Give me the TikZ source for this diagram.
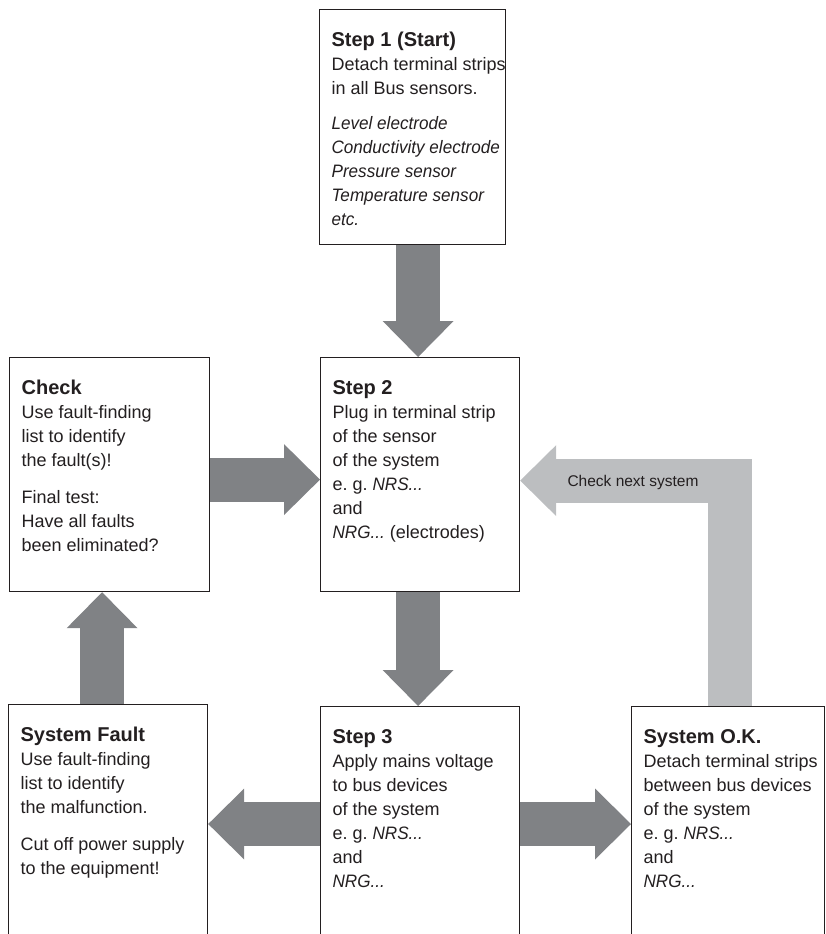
\documentclass[tikz,border=0pt]{standalone}
\usepackage{fontspec}
\setmainfont{Liberation Sans}[ItalicFeatures={FakeStretch=0.95}]
\usetikzlibrary{arrows.meta,positioning,calc}

\definecolor{arrowdark}{RGB}{128,130,133}
\definecolor{arrowlight}{RGB}{188,190,192}
\definecolor{inkblack}{RGB}{35,31,32}

% bold first line of a panel, then the body text
\newcommand{\stephead}[1]{{\bfseries\fontsize{20}{24}\selectfont\strut #1}\\}
\newcommand{\panelbody}[3]{\makebox[#2][l]{\parbox[t][#1][t]{260pt}{\raggedright\frenchspacing #3}}}

\tikzset{
  panel/.style={rectangle, draw=inkblack, line width=1.2pt, fill=white,
    anchor=north west, inner xsep=12pt, inner ysep=20.2pt,
    font=\fontsize{18}{24}\selectfont, text=inkblack},
  blockarrow/.style={line width=44pt, draw=arrowdark,
    -{Triangle[length=36pt,width=71pt,line width=0pt]}},
}

\begin{document}
\begin{tikzpicture}[x=1pt, y=-1pt]
  \useasboundingbox (0,0) rectangle (825,934);
  \clip (0,0) rectangle (825,934);

  % the panels
  \node[panel] (s1) at (319,9) {\panelbody{194.6pt}{162pt}{%
    \stephead{Step 1 (Start)}
    Detach terminal strips\\
    in all Bus sensors.\\[11pt]
    \textit{Level electrode}\\
    \textit{Conductivity electrode}\\
    \textit{Pressure sensor}\\
    \textit{Temperature sensor}\\
    \textit{etc.}}};
  \node[panel] (check) at (9,357) {\panelbody{193.6pt}{176pt}{%
    \stephead{Check}
    Use fault-finding\\
    list to identify\\
    the fault(s)!\\[13pt]
    Final test:\\
    Have all faults\\
    been eliminated?}};
  \node[panel] (s2) at (320,357) {\panelbody{193.6pt}{175pt}{%
    \stephead{Step 2}
    Plug in terminal strip\\
    of the sensor\\
    of the system\\
    e. g. \textit{NRS...}\\
    and\\
    \textit{NRG...} (electrodes)}};
  \node[panel] (fault) at (8,704) {\panelbody{300pt}{175pt}{%
    \stephead{System Fault}
    Use fault-finding\\
    list to identify\\
    the malfunction.\\[13pt]
    Cut off power supply\\
    to the equipment!}};
  \node[panel] (s3) at (320,706) {\panelbody{300pt}{175pt}{%
    \stephead{Step 3}
    Apply mains voltage\\
    to bus devices\\
    of the system\\
    e. g. \textit{NRS...}\\
    and\\
    \textit{NRG...}}};
  \node[panel] (ok) at (631,706) {\panelbody{300pt}{169pt}{%
    \stephead{System O.K.}
    Detach terminal strips\\
    between bus devices\\
    of the system\\
    e. g. \textit{NRS...}\\
    and\\
    \textit{NRG...}}};

  \coordinate (row3) at (0,824);

  % block arrows
  \draw[blockarrow] ([xshift=-2pt]s2.north |- s1.south) -- ([xshift=-2pt]s2.north);
  \draw[blockarrow] ([xshift=-2pt]s2.south) -- ([xshift=-2pt]s3.north);
  \draw[blockarrow] ([yshift=-5pt]check.east) -- ([yshift=-5pt]s2.west);
  \draw[blockarrow] (s3.west |- row3) -- (fault.east |- row3);
  \draw[blockarrow] (s3.east |- row3) -- (ok.west |- row3);
  \draw[blockarrow] ([xshift=-6pt]fault.north) -- ([xshift=-6pt]fault.north |- check.south);
  \draw[blockarrow, draw=arrowlight] ([xshift=2pt]ok.north) |- ([yshift=-6pt]s2.east);

  \node[font=\fontsize{15.5}{18}\selectfont, text=inkblack, anchor=base west]
    (nextlbl) at (564,486) {Check next system};
\end{tikzpicture}
\end{document}
